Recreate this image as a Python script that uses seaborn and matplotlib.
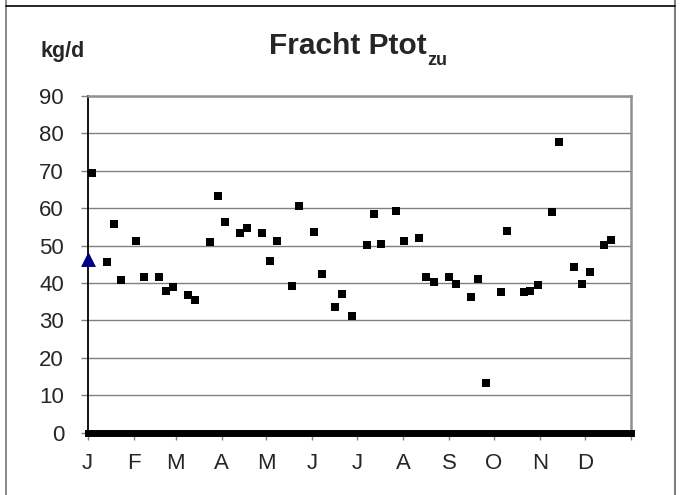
import matplotlib
matplotlib.use("Agg")
import matplotlib.pyplot as plt
import seaborn as sns
import pandas as pd
from matplotlib.lines import Line2D

# ---- data ----
days = [2.7, 12.8, 17.7, 22.6, 32.7, 37.6, 47.7, 52.6, 57.5, 67.6, 72.3, 82.3, 87.3,
        92.2, 102.3, 107.2, 117.3, 122.2, 127.4, 137.5, 142.2, 152.0, 157.3, 166.3,
        170.6, 177.4, 187.5, 192.2, 197.3, 207.4, 212.3, 222.4, 227.5, 232.4, 242.5,
        247.4, 257.5, 262.4, 267.4, 277.5, 282.0, 293.1, 297.4, 302.3, 311.9, 316.8,
        326.8, 332.3, 337.2, 346.7, 351.8]
load = [69.5, 45.5, 55.7, 40.9, 51.2, 41.7, 41.5, 37.9, 38.9, 36.7, 35.6, 51.1, 63.4,
        56.3, 53.5, 54.6, 53.5, 45.8, 51.3, 39.1, 60.5, 53.7, 42.5, 33.7, 37.1, 31.1,
        50.3, 58.4, 50.4, 59.3, 51.2, 52.1, 41.6, 40.3, 41.6, 39.7, 36.4, 41.2, 13.2,
        37.6, 54.0, 37.6, 37.8, 39.6, 59.1, 77.6, 44.3, 39.7, 43.0, 50.2, 51.4]
ref_day = [0]
ref_val = [46.5]
month_starts = [0, 31, 59, 90, 120, 151, 181, 212, 243, 273, 304, 334, 365]
month_labels = ["J", "F", "M", "A", "M", "J", "J", "A", "S", "O", "N", "D", ""]
y_ticks = [0, 10, 20, 30, 40, 50, 60, 70, 80, 90]

sns.set_theme(style="white")
plt.rcParams['font.family'] = ['Liberation Sans', 'DejaVu Sans']

W, H = 681, 495
fig = plt.figure(figsize=(W / 100, H / 100), dpi=100)
ax = fig.add_axes([87.7 / W, (H - 432.7) / H, (631 - 87.7) / W, (432.7 - 96) / H])

df = pd.DataFrame({"day": days, "load": load})
dref = pd.DataFrame({"day": ref_day, "load": ref_val})

sns.scatterplot(data=df, x="day", y="load", marker="s", s=30, color="black",
                linewidth=0, ax=ax, zorder=5, clip_on=False)
sns.scatterplot(data=dref, x="day", y="load", marker="^", s=115, color="#000080",
                linewidth=0, ax=ax, zorder=6, clip_on=False)

ax.set_xlim(0, 365)
ax.set_ylim(0, 90)
ax.set_xticks(month_starts)
ax.set_xticklabels(month_labels)
ax.set_yticks(y_ticks)
ax.set_xlabel("")
ax.set_ylabel("")

ax.yaxis.grid(True, color="#808080", linewidth=1.0)
ax.xaxis.grid(False)
ax.set_axisbelow(True)

for s in ["top", "right"]:
    ax.spines[s].set_color("#909090")
    ax.spines[s].set_linewidth(1.8)
ax.spines["left"].set_color("black")
ax.spines["left"].set_linewidth(1.3)
ax.spines["bottom"].set_color("black")
ax.spines["bottom"].set_linewidth(5.0)
ax.spines["bottom"].set_capstyle("projecting")
ax.spines["bottom"].set_zorder(7)

ax.tick_params(axis="y", direction="out", length=5, width=1, color="#808080",
               labelsize=16, pad=12, left=True)
ax.tick_params(axis="x", direction="out", length=5.3, width=1, color="#808080",
               labelsize=16, pad=9, bottom=True)

# titles
renderer = fig.canvas.get_renderer()
t = fig.text(0, (H - 54.3) / H, "Fracht Ptot", fontsize=21.5, fontweight="bold",
             ha="left", va="baseline")
sub = fig.text(0, (H - 65) / H, "zu", fontsize=13, fontweight="bold",
               ha="left", va="baseline")
w_main = t.get_window_extent(renderer).width
w_sub = sub.get_window_extent(renderer).width
x0 = 358 - (w_main + 1 + w_sub) / 2
t.set_x(x0 / W)
sub.set_x((x0 + w_main + 1) / W)

fig.text(41 / W, (H - 56.7) / H, "kg/d", fontsize=15.5, fontweight="bold",
         ha="left", va="baseline")

# outer frame
fig.add_artist(Line2D([5.5 / W, 5.5 / W], [0, 1], transform=fig.transFigure,
                      color="#808080", linewidth=1.3))
fig.add_artist(Line2D([674.7 / W, 674.7 / W], [0, 1], transform=fig.transFigure,
                      color="#808080", linewidth=1.5))
fig.add_artist(Line2D([5.5 / W, 674.7 / W], [(H - 6) / H, (H - 6) / H],
                      transform=fig.transFigure, color="black", linewidth=1.2))

fig.savefig("out.png", dpi=100)
